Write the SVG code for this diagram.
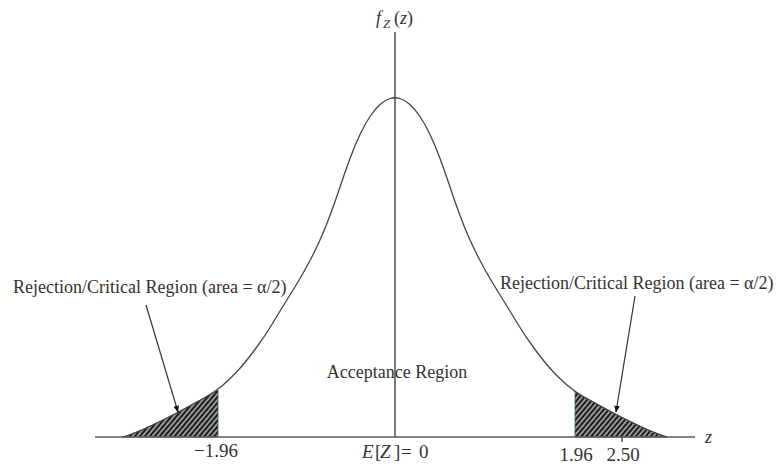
<svg xmlns="http://www.w3.org/2000/svg" width="776" height="466" viewBox="0 0 776 466">
<style>
.t{font-family:"Liberation Serif","Times New Roman",serif;fill:#333}
.lbl{font-size:18px}
.num{font-size:19px}
.it{font-style:italic}
.axis{stroke:#5a5a5a;stroke-width:1.6;fill:none}
.curve{stroke:#444;stroke-width:1.3;fill:none}
.shade{fill:url(#hatch);stroke:#2f5f6e;stroke-width:0.8}
.lead{stroke:#333;stroke-width:1.2;fill:none;marker-end:url(#ah)}
</style>
<defs>
<pattern id="hatch" width="3.8" height="6" patternUnits="userSpaceOnUse" patternTransform="rotate(40)">
<rect width="3.8" height="6" fill="#1b1b1b"/>
<line x1="1.9" y1="0" x2="1.9" y2="6" stroke="#f2f2f2" stroke-width="1.1"/>
</pattern>
<marker id="ah" viewBox="0 0 10 10" refX="9" refY="5" markerWidth="7" markerHeight="7" orient="auto" markerUnits="userSpaceOnUse">
<path d="M0,1 L10,5 L0,9 Z" fill="#111"/>
</marker>
</defs>

<g id="regions">
<path id="left-tail" class="shade" d="M123,437 L129,435 Q135,433 145,428.5 Q155,424 165,419 Q175,414 185,408.5 Q195,403 205,397.5 Q213,393 218,390 L218,437 Z"/>
<path id="right-tail" class="shade" d="M575,437 L575,391.5 Q580,395 585,397.5 Q595,403 605,408.5 Q615,414 625,419 Q635,424 645,428.5 Q655,433 661,435 L667,437 Z"/>
</g>

<g id="axes">
<line class="axis" x1="95" y1="437" x2="695" y2="437"/>
<line class="axis" x1="395" y1="32" x2="395" y2="437"/>
<line class="axis" x1="622" y1="437" x2="622" y2="442"/>
</g>

<g id="density-curve">
<path class="curve" d="M123,437 L129,435 Q135,433 145,428.5 Q155,424 165,419 Q175,414 185,408.5 Q195,403 205,397.5 Q215,392 222.5,385.5 Q230,379 237.5,371 Q245,363 255,349.5 Q265,336 272.5,323.5 Q280,311 287.5,299 Q295,287 300,278.5 Q305,270 310,260.5 Q315,251 320,240 Q325,229 330,215.5 Q335,202 340,187 Q345,172 350,158.5 Q355,145 360,134.5 Q365,124 370,116.5 Q375,109 380,104.5 Q385,100 390,98.5 Q395,97 400,98.5 Q405,100 410,104.5 Q415,109 420,116.5 Q425,124 430,134.5 Q435,145 440,158.5 Q445,172 450,187 Q455,202 460,215.5 Q465,229 470,240 Q475,251 480,260.5 Q485,270 490,278.5 Q495,287 502.5,299 Q510,311 517.5,323.5 Q525,336 535,349.5 Q545,363 552.5,371 Q560,379 567.5,385.5 Q575,392 585,397.5 Q595,403 605,408.5 Q615,414 625,419 Q635,424 645,428.5 Q655,433 661,435 L667,437"/>
</g>

<g id="connectors">
<line class="lead" x1="146" y1="305" x2="178" y2="412"/>
<line class="lead" x1="635" y1="296" x2="616" y2="412"/>
</g>

<g id="label-left">
<text class="t lbl" x="13" y="293">Rejection/Critical Region (area = α/2)</text>
</g>
<g id="label-right">
<text class="t lbl" x="500" y="289">Rejection/Critical Region (area = α/2)</text>
</g>
<g id="label-acceptance">
<text class="t lbl" x="397" y="378" text-anchor="middle">Acceptance Region</text>
</g>

<g id="axis-labels">
<text class="t" font-size="18" y="24"><tspan x="376" class="it">f</tspan><tspan x="383" dy="4" font-size="13" class="it">Z</tspan><tspan x="394" dy="-4">(</tspan><tspan class="it">z</tspan><tspan>)</tspan></text>
<text class="t it" font-size="18" x="705" y="443">z</text>
<text class="t num" x="216" y="457" text-anchor="middle">−1.96</text>
<text class="t num" x="576" y="461" text-anchor="middle">1.96</text>
<text class="t num" x="623" y="461" text-anchor="middle">2.50</text>
<text class="t" font-size="19" y="458"><tspan x="362" class="it">E</tspan><tspan x="375">[</tspan><tspan x="380" class="it">Z</tspan><tspan x="394">]</tspan><tspan x="401">=</tspan><tspan x="419">0</tspan></text>
</g>
</svg>
